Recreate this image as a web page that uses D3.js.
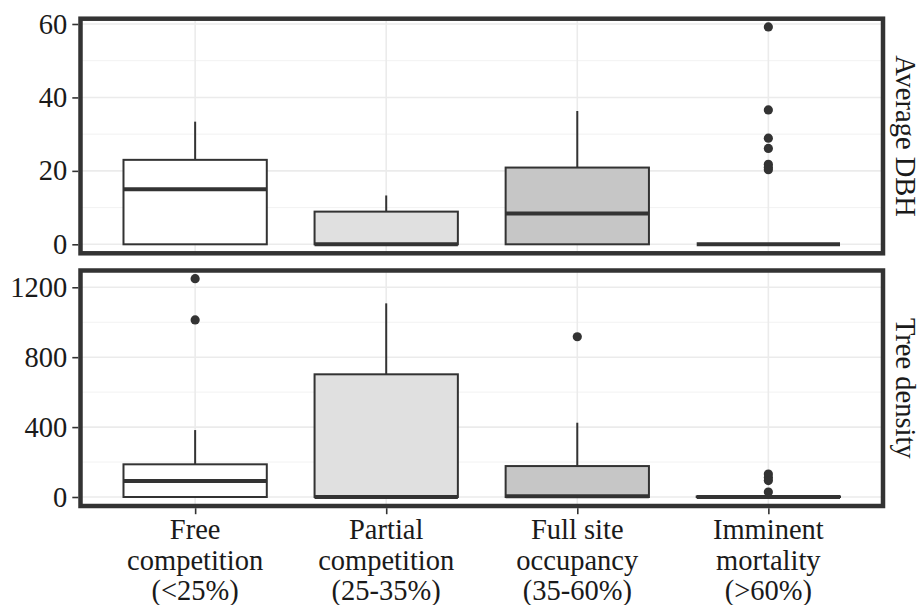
<!DOCTYPE html>
<html>
<head>
<meta charset="utf-8">
<script src="https://cdn.jsdelivr.net/npm/d3@7"></script>
<style>
  html, body { margin: 0; padding: 0; background: #fff; }
  svg { display: block; }
  text, tspan { font-family: "Liberation Serif", "DejaVu Serif", serif; }
</style>
</head>
<body>
<svg id="chart" width="920" height="605"></svg>
<script>
// ---------------- DATA ----------------
const categories = ["Free competition (<25%)", "Partial competition (25-35%)", "Full site occupancy (35-60%)", "Imminent mortality (>60%)"];
const categoryLines = [["Free", "competition", "(<25%)"], ["Partial", "competition", "(25-35%)"], ["Full site", "occupancy", "(35-60%)"], ["Imminent", "mortality", "(>60%)"]];
const fills = ["#ffffff", "#e0e0e0", "#c6c6c6", "#a9a9a9"];

// Average DBH
const dbhLow = [0, 0, 0, 0];
const dbhQ1 = [0, 0, 0, 0];
const dbhMedian = [15.0, 0, 8.4, 0];
const dbhQ3 = [23.0, 8.9, 20.9, 0];
const dbhHigh = [33.4, 13.3, 36.3, 0];
const dbhOutliers = [[], [], [], [59.2, 36.6, 28.9, 26.1, 21.8, 21.0, 20.3]];
const dbhTicks = [0, 20, 40, 60];
const dbhMinor = [10, 30, 50];

// Tree density
const denLow = [0, 0, 0, 0];
const denQ1 = [0, 0, 0, 0];
const denMedian = [92, 0, 5, 0];
const denQ3 = [187, 702, 177, 3];
const denHigh = [383, 1108, 425, 10];
const denOutliers = [[1249, 1013], [], [917], [131, 112, 94, 28]];
const denTicks = [0, 400, 800, 1200];
const denMinor = [200, 600, 1000];

const stripLabels = ["Average DBH", "Tree density"];

// ---------------- LAYOUT ----------------
const svg = d3.select("#chart");
const SERIF = "'Liberation Serif', 'DejaVu Serif', serif";
const L = 80.5, R = 883;
const panels = [
  { top: 18.7, bottom: 253.3, domain: [-2.45, 61.44], low: dbhLow, q1: dbhQ1, med: dbhMedian, q3: dbhQ3, high: dbhHigh, out: dbhOutliers, ticks: dbhTicks, minor: dbhMinor, label: stripLabels[0] },
  { top: 270.5, bottom: 506, domain: [-51.5, 1296], low: denLow, q1: denQ1, med: denMedian, q3: denQ3, high: denHigh, out: denOutliers, ticks: denTicks, minor: denMinor, label: stripLabels[1] }
];

const x = d3.scalePoint().domain(categories).range([L, R]).padding(0.6);
const boxW = x.step() * 0.75;
const dark = "#333333";
const fontSize = 28.5;

panels.forEach((p, pi) => {
  const y = d3.scaleLinear().domain(p.domain).range([p.bottom, p.top]);
  const g = svg.append("g");

  // grid
  g.selectAll(".minor").data(p.minor).enter().append("line")
    .attr("x1", L).attr("x2", R).attr("y1", d => y(d)).attr("y2", d => y(d))
    .attr("stroke", "#f2f2f2").attr("stroke-width", 1);
  g.selectAll(".major").data(p.ticks).enter().append("line")
    .attr("x1", L).attr("x2", R).attr("y1", d => y(d)).attr("y2", d => y(d))
    .attr("stroke", "#ebebeb").attr("stroke-width", 1.6);
  g.selectAll(".vmajor").data(categories).enter().append("line")
    .attr("x1", d => x(d)).attr("x2", d => x(d)).attr("y1", p.top).attr("y2", p.bottom)
    .attr("stroke", "#ebebeb").attr("stroke-width", 1.6);

  // boxes
  categories.forEach((c, i) => {
    const cx = x(c);
    g.append("line").attr("x1", cx).attr("x2", cx)
      .attr("y1", y(p.q3[i])).attr("y2", y(p.high[i]))
      .attr("stroke", dark).attr("stroke-width", 2);
    g.append("line").attr("x1", cx).attr("x2", cx)
      .attr("y1", y(p.q1[i])).attr("y2", y(p.low[i]))
      .attr("stroke", dark).attr("stroke-width", 2);
    g.append("rect").attr("x", cx - boxW / 2).attr("width", boxW)
      .attr("y", y(p.q3[i])).attr("height", Math.max(0, y(p.q1[i]) - y(p.q3[i])))
      .attr("fill", fills[i]).attr("stroke", dark).attr("stroke-width", 2);
    g.append("line").attr("x1", cx - boxW / 2).attr("x2", cx + boxW / 2)
      .attr("y1", y(p.med[i])).attr("y2", y(p.med[i]))
      .attr("stroke", dark).attr("stroke-width", 4);
    g.selectAll(null).data(p.out[i]).enter().append("circle")
      .attr("cx", cx).attr("cy", d => y(d)).attr("r", 4.6).attr("fill", dark);
  });

  // border
  g.append("rect").attr("x", L).attr("y", p.top).attr("width", R - L).attr("height", p.bottom - p.top)
    .attr("fill", "none").attr("stroke", dark).attr("stroke-width", 4.5);

  // y axis
  const ya = svg.append("g").attr("transform", `translate(${L - 2.2},0)`)
    .call(d3.axisLeft(y).tickValues(p.ticks).tickSize(6).tickPadding(5).tickFormat(d3.format("d")));
  ya.attr("font-family", SERIF);
  ya.select(".domain").remove();
  ya.selectAll(".tick line").attr("stroke", dark).attr("stroke-width", 1.6);
  ya.selectAll(".tick text").attr("fill", "#1a1a1a").style("font-size", fontSize + "px")
    .style("font-family", SERIF);

  // strip label
  svg.append("text")
    .attr("transform", `translate(${905},${(p.top + p.bottom) / 2}) rotate(90)`)
    .attr("text-anchor", "middle").attr("dominant-baseline", "central")
    .attr("fill", "#1a1a1a").style("font-size", fontSize + "px").style("font-family", SERIF)
    .text(p.label);

  // x axis for bottom panel
  if (pi === panels.length - 1) {
    const xa = svg.append("g").attr("transform", `translate(0,${p.bottom + 2.2})`)
      .call(d3.axisBottom(x).tickSize(6).tickFormat(""));
    xa.select(".domain").remove();
    xa.selectAll(".tick line").attr("stroke", dark).attr("stroke-width", 1.6);
    categories.forEach((c, i) => {
      const t = svg.append("text").attr("x", x(c)).attr("y", 539)
        .attr("text-anchor", "middle").attr("fill", "#1a1a1a")
        .style("font-size", fontSize + "px").style("font-family", SERIF);
      categoryLines[i].forEach((ln, k) => {
        t.append("tspan").attr("x", x(c)).attr("y", 539 + k * 30.5)
          .style("font-family", SERIF).text(ln);
      });
    });
  }
});
</script>
</body>
</html>
